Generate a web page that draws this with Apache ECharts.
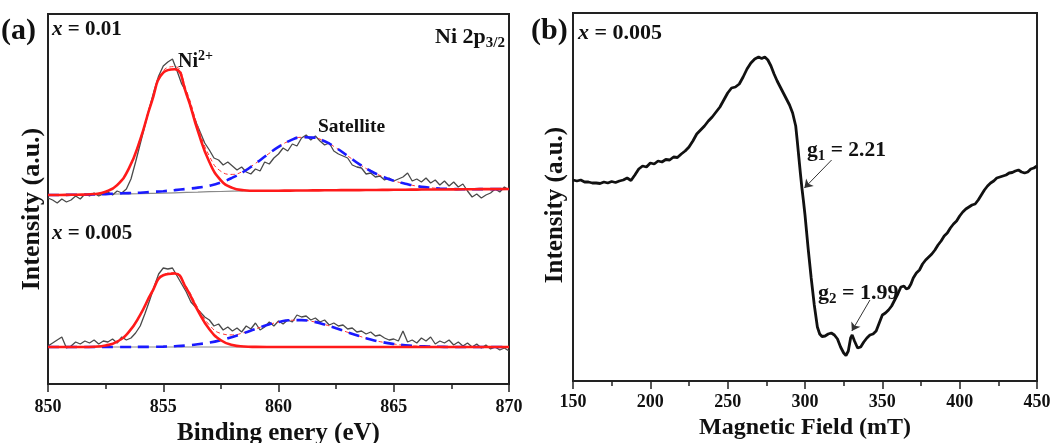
<!DOCTYPE html>
<html>
<head>
<meta charset="utf-8">
<script src="https://cdn.jsdelivr.net/npm/echarts@6/dist/echarts.min.js"></script>
<style>
html,body{margin:0;padding:0;background:#fff;}
#chart{width:1064px;height:443px;}
</style>
</head>
<body>
<div id="chart"></div>
<script>
// ---------- Panel (a): XPS Ni 2p3/2 ----------
const xpsTicks = [850, 855, 860, 865, 870];
const fitE = [850,850.5,851,851.5,852,852.5,853,853.5,854,854.5,855,855.5,856,856.5,857,857.5,858,858.5,859,859.5,860,860.5,861,861.5,862,862.5,863,863.5,864,864.5,865,865.5,866,866.5,867,867.5,868,868.5,869,869.5,870];
const dataE = [850.0,850.2,850.4,850.6,850.8,851.0,851.2,851.4,851.6,851.8,852.0,852.2,852.4,852.6,852.8,853.0,853.2,853.4,853.6,853.8,854.0,854.2,854.4,854.6,854.8,855.0,855.2,855.4,855.6,855.8,856.0,856.2,856.4,856.6,856.8,857.0,857.2,857.4,857.6,857.8,858.0,858.2,858.4,858.6,858.8,859.0,859.2,859.4,859.6,859.8,860.0,860.2,860.4,860.6,860.8,861.0,861.2,861.4,861.6,861.8,862.0,862.2,862.4,862.6,862.8,863.0,863.2,863.4,863.6,863.8,864.0,864.2,864.4,864.6,864.8,865.0,865.2,865.4,865.6,865.8,866.0,866.2,866.4,866.6,866.8,867.0,867.2,867.4,867.6,867.8,868.0,868.2,868.4,868.6,868.8,869.0,869.2,869.4,869.6,869.8,870.0];

// x = 0.01 (upper spectrum)
const topRaw = [186,184,181,185,182,184,188,185,190,188,191,188,190,192,189,193,191,195,205,222,240,258,276,293,308,318,322,325,313,300,292,276,263,252,241,234,226,224,219,222,218,214,217,212,210,215,213,222,220,226,230,236,233,240,238,246,249,244,248,243,239,241,233,230,228,226,219,217,216,210,211,207,208,204,206,203,205,207,211,203,205,202,206,201,204,199,203,198,202,197,200,193,187,190,186,189,191,195,192,197,194];
const topBase = [189.0,189.0,189.2,189.3,189.5,189.7,190.0,190.2,190.3,190.6,190.8,191.2,191.6,191.9,192.3,192.5,192.8,193.0,193.1,193.2,193.3,193.4,193.5,193.6,193.7,193.8,193.9,193.9,194.0,194.1,194.2,194.3,194.4,194.5,194.5,194.6,194.7,194.8,194.9,194.9,195.0];
const topPeak = [189.0,189.0,189.2,189.4,190.0,192.2,198.9,215.1,244.4,282.1,311.3,314.7,290.2,253.2,222.0,203.7,196.1,193.8,193.2,193.2,193.3,193.4,193.5,193.6,193.7,193.8,193.9,193.9,194.0,194.1,194.2,194.3,194.4,194.5,194.5,194.6,194.7,194.8,194.9,194.9,195.0];
const topSat = [189.0,189.0,189.2,189.3,189.5,189.9,190.5,190.9,191.3,192.1,192.8,193.9,195.1,196.4,198.3,201.5,206.3,212.5,220.5,229.0,237.1,243.4,246.7,246.4,242.7,236.1,228.1,219.9,213.0,207.6,203.2,200.3,197.9,196.5,195.5,195.1,194.7,194.8,194.9,194.9,195.0];
const topEnv = [189.0,189.0,189.2,189.4,190.0,192.4,199.4,215.8,245.4,283.6,313.3,317.4,293.7,257.7,228.0,212.7,209.6,213.3,220.6,229.0,237.1,243.4,246.7,246.4,242.7,236.1,228.1,219.9,213.0,207.6,203.2,200.3,197.9,196.5,195.5,195.1,194.7,194.8,194.9,194.9,195.0];

// x = 0.005 (lower spectrum)
const botRaw = [38,41,44,47,36,38,42,40,43,41,44,40,43,42,45,41,47,44,46,51,58,70,83,97,110,116,115,116,108,100,92,82,77,72,67,64,58,60,54,57,53,56,52,58,55,61,54,57,62,58,63,60,64,62,69,67,68,64,66,62,64,59,61,58,59,55,56,52,53,50,52,48,49,46,44,45,43,53,42,44,41,46,43,47,40,43,41,44,39,42,38,41,37,40,36,39,35,37,34,36,33];
const botBase = [37,37,37,37,37,37,37,37,37,37,37,37,37,37,37,37,37,37,37,37,37,37,37,37,37,37,37,37,37,37,37,37,37,37,37,37,37,37,37,37,37];
const botPeak = [37,37,37,37,37.3,38.5,42.3,51.9,69.2,91.5,108.7,110.5,95.7,73.5,54.7,43.7,39.0,37.5,37.1,37,37,37,37,37,37,37,37,37,37,37,37,37,37,37,37,37,37,37,37,37,37];
const botSat = [37,37,37,37,37,37,37,37,37.1,37.2,37.4,37.8,38.5,39.7,41.4,43.9,47.1,50.9,55.0,58.9,61.9,63.7,63.9,62.4,59.5,55.8,51.7,47.9,44.5,41.9,40.0,38.7,37.9,37.5,37.2,37,37,37,37,37,37];
const botEnv = [37,37,37,37,37.3,38.5,42.3,51.9,69.3,91.7,109.1,111.3,97.2,76.2,59.1,50.6,49.1,51.4,55.1,58.9,61.9,63.7,63.9,62.4,59.5,55.8,51.7,47.9,44.5,41.9,40.0,38.7,37.9,37.5,37.2,37,37,37,37,37,37];

// ---------- Panel (b): EPR ----------
const eprTicks = [150, 200, 250, 300, 350, 400, 450];
const eprField = [150,152.5,155,157.5,160,162.5,165,167.5,170,172.5,175,177.5,180,182.5,185,187.5,190,192.5,195,197.5,200,202.5,205,207.5,210,212.5,215,217.5,220,222.5,225,227.5,230,232.5,235,237.5,240,242.5,245,247.5,250,252.5,255,257.5,260,262.5,265,267.5,270,272,274,276,278,280,282,284,286,288,290,292,294,295,296,297,298,299,300,302,304,306,308,309.5,311,313,315,317,319,321,323,325,326.5,328,329.5,330.5,332,334,336,338,340,342,344,346,348,350,352,354,356,358,360,362,364,365.5,367,368.5,370,372,374,376,378,380,382,384,386,388,390,392,394,396,398,400,402,404,406,408,410,412,414,416,418,420,422,424,426,428,430,432,434,436,438,440,442,444,446,448,450];
const eprSignal = [201,200,201,199,199,198,198,197.5,199,198,199.5,198.5,200,201,203,200.5,206,212,215,214,218,217,220,219,221.5,221,224,223.5,227,230,234,240,247,251,255,260,264,269,274,281,288,293,294,297,304,312,318,322,324,322.5,324,321,315,307,300,294,288,282,276,268,255,240,224,208,193,180,166,133,103,76,54,47,44.5,45,47,48,46,42,34,28,25.5,30,43,46,40,33,34,39,43,46,47,50,58,66,68,71,75,81,87,94,95,92,93,97,103,108,111,117,121,124,127,131,136,140,145,148,153,157,160,165,169,172,174,176,177,181,186,191,195,198,200,203,204,205,206,208,208.5,210,211,209,208,209,212,213,215];

// ---------- build ----------
const FONT = '"Liberation Serif", "Times New Roman", serif';
const pairs = (xs, ys) => xs.map((x, i) => [x, ys[i]]);
const chart = echarts.init(document.getElementById('chart'), null, {renderer: 'canvas'});

function xAxisCfg(grid, min, max, interval, name, gap, margin, nameSize) {
  return {
    type: 'value', gridIndex: grid, min: min, max: max, interval: interval,
    name: name, nameLocation: 'middle', nameGap: gap,
    nameTextStyle: {fontFamily: FONT, fontWeight: 'bold', fontSize: nameSize, color: '#111'},
    axisLine: {show: true, onZero: false, lineStyle: {color: '#222', width: 2}},
    axisTick: {show: true, inside: false, length: 8, lineStyle: {color: '#222', width: 1.5}},
    minorTick: {show: true, splitNumber: 2, length: 5, lineStyle: {color: '#222', width: 1.5}},
    splitLine: {show: false},
    axisLabel: {fontFamily: FONT, fontWeight: 'bold', fontSize: 18, color: '#111', margin: margin,
      formatter: v => String(v)}
  };
}
function yAxisCfg(grid, max) {
  return {type: 'value', gridIndex: grid, min: 0, max: max,
    axisLine: {show: false}, axisTick: {show: false}, axisLabel: {show: false}, splitLine: {show: false}};
}
function line(data, xi, color, width, type, smooth, z) {
  return {type: 'line', xAxisIndex: xi, yAxisIndex: xi, data: data, showSymbol: false, symbol: 'none',
    smooth: smooth, silent: true, z: z,
    lineStyle: {color: color, width: width, type: type}};
}
function txt(x, y, text, opts) {
  const o = opts || {};
  return {type: 'text', x: x, y: y, rotation: o.rotation || 0, silent: true, z: 100,
    style: Object.assign({text: text, fill: '#111', font: 'bold ' + (o.size || 18) + 'px ' + FONT,
      align: o.align || 'left', verticalAlign: o.va || 'middle'}, o.rich ? {rich: o.rich} : {})};
}
const richBase = (size) => ({
  n: {fontFamily: FONT, fontWeight: 'bold', fontSize: size, lineHeight: size + 6, fill: '#111', color: '#111'},
  i: {fontFamily: FONT, fontWeight: 'bold', fontStyle: 'italic', fontSize: size, lineHeight: size + 6, fill: '#111', color: '#111'},
  sup: {fontFamily: FONT, fontWeight: 'bold', fontSize: Math.round(size * 0.68), fill: '#111', color: '#111', verticalAlign: 'top', lineHeight: size + 6},
  sub: {fontFamily: FONT, fontWeight: 'bold', fontSize: Math.round(size * 0.68), fill: '#111', color: '#111', verticalAlign: 'bottom', lineHeight: size + 6}
});

const option = {
  animation: false,
  backgroundColor: '#fff',
  grid: [
    {left: 48, top: 14, width: 461, height: 370, show: true, borderColor: '#222', borderWidth: 2,
      backgroundColor: 'transparent', containLabel: false, outerBoundsMode: 'none'},
    {left: 573, top: 13, width: 464, height: 368, show: true, borderColor: '#222', borderWidth: 2,
      backgroundColor: 'transparent', containLabel: false, outerBoundsMode: 'none'}
  ],
  xAxis: [
    xAxisCfg(0, xpsTicks[0], xpsTicks[xpsTicks.length - 1], 5, 'Binding enery (eV)', 31, 14, 25),
    xAxisCfg(1, eprTicks[0], eprTicks[eprTicks.length - 1], 50, 'Magnetic Field (mT)', 32, 12, 24)
  ],
  yAxis: [yAxisCfg(0, 370), yAxisCfg(1, 368)],
  series: [
    line(pairs(fitE, topBase), 0, '#8a8a8a', 1.2, 'solid', false, 1),
    line(pairs(fitE, botBase), 0, '#8a8a8a', 1.2, 'solid', false, 1),
    line(pairs(dataE, topRaw), 0, '#4a4a4a', 1.3, 'solid', false, 2),
    line(pairs(dataE, botRaw), 0, '#4a4a4a', 1.3, 'solid', false, 2),
    line(pairs(fitE, topEnv), 0, '#ff3030', 1, [4, 3], true, 3),
    line(pairs(fitE, botEnv), 0, '#ff3030', 1, [4, 3], true, 3),
    line(pairs(fitE, topSat), 0, '#1a1aff', 2.6, [11, 7], true, 4),
    line(pairs(fitE, botSat), 0, '#1a1aff', 2.6, [11, 7], true, 4),
    line(pairs(fitE, topPeak), 0, '#ff1a1a', 2.6, 'solid', true, 5),
    line(pairs(fitE, botPeak), 0, '#ff1a1a', 2.6, 'solid', true, 5),
    Object.assign(line(pairs(eprField, eprSignal), 1, '#111', 2.8, 'solid', false, 5), {
      markLine: {
        silent: true, animation: false, symbol: ['none', 'arrow'], symbolSize: 8,
        label: {show: false},
        lineStyle: {color: '#333', width: 1, type: 'solid'},
        data: [
          [{coord: [317.2, 221]}, {coord: [299.6, 193]}],
          [{coord: [342, 81]}, {coord: [330.3, 50]}]
        ]
      }
    })
  ],
  graphic: [
    txt(1, 31, '(a)', {size: 30}),
    txt(52, 30, '{i|x}{n| = 0.01}', {rich: richBase(21)}),
    txt(505, 37, '{n|Ni 2p}{sub|3/2}', {align: 'right', rich: richBase(22)}),
    txt(178, 62, '{n|Ni}{sup|2+}', {rich: richBase(20)}),
    txt(318, 127, 'Satellite', {size: 19.5}),
    txt(52, 234, '{i|x}{n| = 0.005}', {rich: richBase(21)}),
    txt(32, 209, 'Intensity (a.u.)', {size: 26, align: 'center', rotation: Math.PI / 2}),
    txt(531, 31, '(b)', {size: 30}),
    txt(578, 33, '{i|x}{n| = 0.005}', {rich: richBase(22)}),
    txt(807, 150, '{n|g}{sub|1}{n| = 2.21}', {rich: richBase(21.5)}),
    txt(818, 293, '{n|g}{sub|2}{n| = 1.99}', {rich: richBase(22)}),
    txt(556, 205, 'Intensity (a.u.)', {size: 25, align: 'center', rotation: Math.PI / 2})
  ]
};
chart.setOption(option);
</script>
</body>
</html>
